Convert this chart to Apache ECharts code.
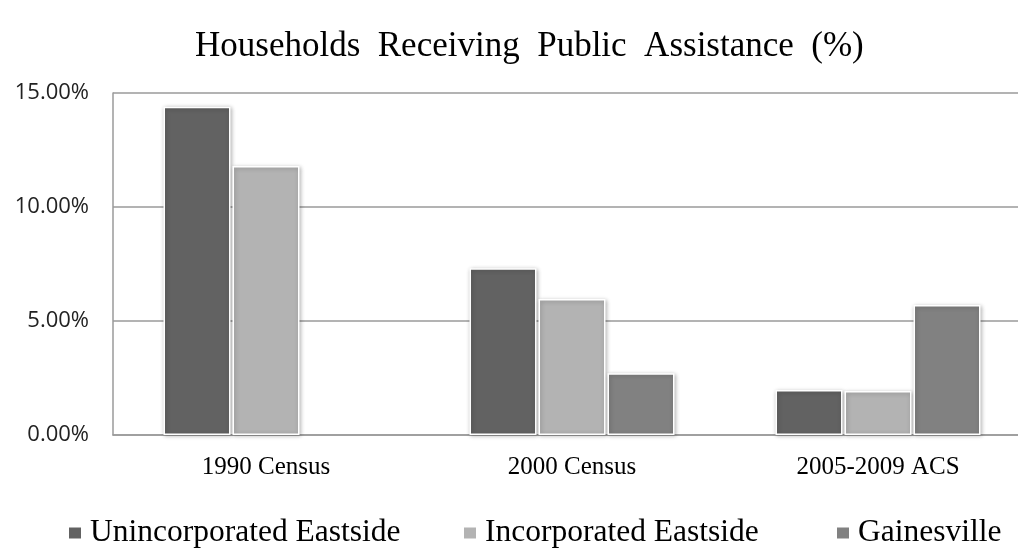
<!DOCTYPE html>
<html>
<head>
<meta charset="utf-8">
<script src="https://cdn.jsdelivr.net/npm/echarts@6/dist/echarts.min.js"></script>
<style>
html,body{margin:0;padding:0;background:#fff;overflow:hidden;}
#chart{width:1040px;height:551px;}
</style>
</head>
<body>
<div id="chart"></div>
<script>
const categories = ['1990 Census', '2000 Census', '2005-2009 ACS'];
const unincorporatedEastside = [14.40, 7.31, 1.97];
const incorporatedEastside = [11.80, 5.96, 1.93];
const gainesville = [null, 2.71, 5.70];
const seriesNames = ['Unincorporated Eastside', 'Incorporated Eastside', 'Gainesville'];
const seriesColors = ['#626262', '#b3b3b3', '#818181'];
const titleText = 'Households  Receiving  Public  Assistance  (%)';

const chart = echarts.init(document.getElementById('chart'));
const serif = '"Liberation Serif", "Times New Roman", serif';
const barStyle = (c) => ({
  color: c,
  borderColor: '#ffffff',
  borderWidth: 1.5,
  shadowBlur: 4,
  shadowColor: 'rgba(0,0,0,0.28)',
  shadowOffsetX: 1,
  shadowOffsetY: 1
});
const dataArrays = [unincorporatedEastside, incorporatedEastside, gainesville];
const legendLefts = [62, 457, 830];

chart.setOption({
  animation: false,
  backgroundColor: '#ffffff',
  title: {
    text: titleText,
    left: 190,
    top: 24,
    textStyle: { fontFamily: serif, fontSize: 35, fontWeight: 'normal', color: '#000' }
  },
  legend: seriesNames.map((n, i) => ({
    data: [n],
    left: legendLefts[i],
    top: 512,
    icon: 'rect',
    itemWidth: 14,
    itemHeight: 13,
    itemGap: 0,
    textStyle: { fontFamily: serif, fontSize: 31.5, lineHeight: 32, color: '#000', padding: [0, 0, 0, 3] }
  })),
  grid: { left: 113, top: 93, width: 918, height: 342, containLabel: false },
  xAxis: {
    type: 'category',
    data: categories,
    axisLine: { show: true, lineStyle: { color: '#9a9a9a', width: 1.5 } },
    axisTick: { show: false },
    axisLabel: { fontFamily: serif, fontSize: 25, color: '#000', margin: 20 }
  },
  yAxis: {
    type: 'value',
    min: 0,
    max: 15,
    interval: 5,
    axisLine: { show: true, lineStyle: { color: '#9a9a9a', width: 1.5 } },
    axisTick: { show: false },
    splitLine: { show: true, lineStyle: { color: '#9a9a9a', width: 1.5 } },
    axisLabel: {
      fontFamily: '"Open Sans", "Liberation Sans", sans-serif',
      fontSize: 22,
      color: '#222',
      margin: 24,
      formatter: (v) => v.toFixed(2) + '%'
    }
  },
  series: seriesNames.map((n, i) => ({
    name: n,
    type: 'bar',
    data: dataArrays[i],
    barWidth: 67,
    barGap: '3%',
    itemStyle: barStyle(seriesColors[i])
  }))
});
</script>
</body>
</html>
